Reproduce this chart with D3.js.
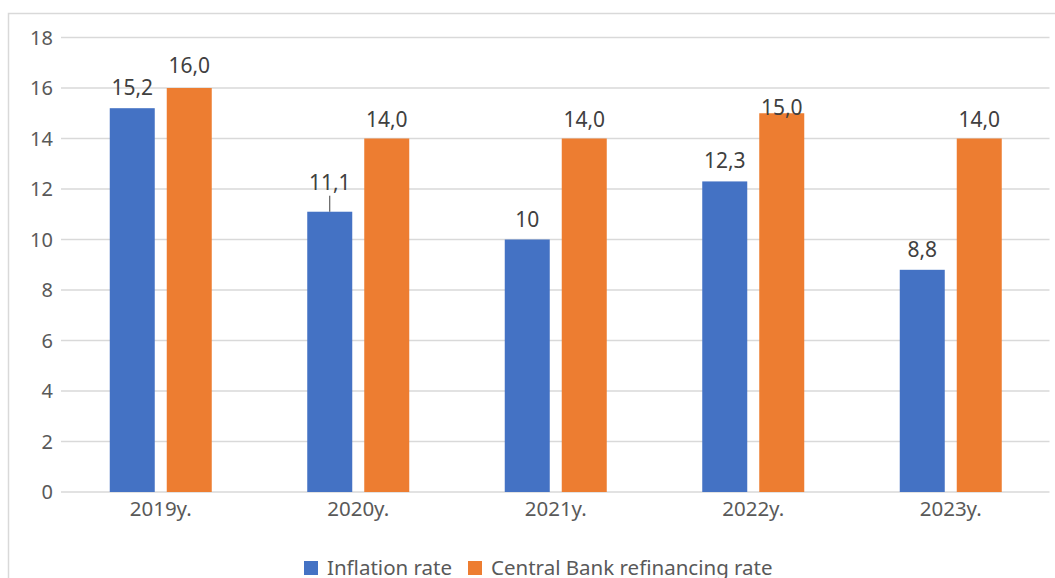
<!DOCTYPE html>
<html>
<head>
<meta charset="utf-8">
<script src="https://cdn.jsdelivr.net/npm/d3@7"></script>
<style>
  body { margin: 0; background: #fff; }
  text { font-family: "Noto Sans", "Open Sans", sans-serif; fill: #595959; }
</style>
</head>
<body>
<div id="chart-area"></div>
<script>
// data
var years = ["2019y.", "2020y.", "2021y.", "2022y.", "2023y."];
var inflation = [15.2, 11.1, 10, 12.3, 8.8];
var inflationLabels = ["15,2", "11,1", "10", "12,3", "8,8"];
var refinancing = [16.0, 14.0, 14.0, 15.0, 14.0];
var refinancingLabels = ["16,0", "14,0", "14,0", "15,0", "14,0"];
var yTicks = [0, 2, 4, 6, 8, 10, 12, 14, 16, 18];
var seriesNames = ["Inflation rate", "Central Bank refinancing rate"];
var colors = ["#4472c4", "#ed7d31"];

var chartW = 1055, chartH = 578;
var plotLeft = 62, plotRight = 1049.5, plotTop = 37.5, plotBottom = 492;

var svg = d3.select("#chart-area").append("svg")
	.attr("width", chartW)
	.attr("height", chartH);

// outer frame (cut at right and bottom like the screenshot)
svg.append("rect")
	.attr("x", 8.5).attr("y", 13.5)
	.attr("width", 1060).attr("height", 600)
	.attr("fill", "none")
	.attr("stroke", "#d9d9d9")
	.attr("stroke-width", 1.5);

var x = d3.scaleBand().domain(years).range([plotLeft, plotRight]);
var y = d3.scaleLinear().domain([0, 18]).range([plotBottom, plotTop]);

// gridlines + y labels
svg.selectAll(".grid").data(yTicks).enter()
	.append("line")
	.attr("x1", plotLeft - 1).attr("x2", plotRight)
	.attr("y1", function(d){ return y(d); })
	.attr("y2", function(d){ return y(d); })
	.attr("stroke", "#d9d9d9")
	.attr("stroke-width", 1.5);

svg.selectAll(".ylab").data(yTicks).enter()
	.append("text")
	.attr("x", 53)
	.attr("y", function(d){ return y(d); })
	.attr("dy", "0.36em")
	.attr("text-anchor", "end")
	.style("font-size", "20px")
	.text(function(d){ return d; });

// x labels
svg.selectAll(".xlab").data(years).enter()
	.append("text")
	.attr("x", function(d){ return x(d) + x.bandwidth() / 2; })
	.attr("y", 516)
	.attr("text-anchor", "middle")
	.style("font-size", "20.5px")
	.text(function(d){ return d; });

var barW = 45, gap = 12;
function barX(i, s) {
	var c = x(years[i]) + x.bandwidth() / 2;
	return s === 0 ? c - gap / 2 - barW : c + gap / 2;
}

var series = [inflation, refinancing];
var labels = [inflationLabels, refinancingLabels];
// label nudges, Excel moved a couple of them
var labelOffset = [[13, 22, 13, 13, 13], [15, 12, 12, -2, 12]];

series.forEach(function(vals, s){
	svg.selectAll(".bar" + s).data(vals).enter()
		.append("rect")
		.attr("x", function(d, i){ return barX(i, s); })
		.attr("y", function(d){ return y(d); })
		.attr("width", barW)
		.attr("height", function(d){ return y(0) - y(d); })
		.attr("fill", colors[s]);

	svg.selectAll(".lab" + s).data(vals).enter()
		.append("text")
		.attr("x", function(d, i){ return barX(i, s) + barW / 2; })
		.attr("y", function(d, i){ return y(d) - labelOffset[s][i]; })
		.attr("text-anchor", "middle")
		.style("font-size", "21px")
		.style("fill", "#404040")
		.text(function(d, i){ return labels[s][i]; });
});

// leader line for the 11,1 label
svg.append("line")
	.attr("x1", barX(1, 0) + barW / 2).attr("x2", barX(1, 0) + barW / 2)
	.attr("y1", y(inflation[1]) - 16).attr("y2", y(inflation[1]))
	.attr("stroke", "#404040")
	.attr("stroke-width", 1);

// legend
var legend = svg.append("g");
var legX = [304, 468];
seriesNames.forEach(function(name, s){
	legend.append("rect")
		.attr("x", legX[s]).attr("y", 561)
		.attr("width", 14).attr("height", 14)
		.attr("fill", colors[s]);
	legend.append("text")
		.attr("x", legX[s] + 23).attr("y", 575)
		.style("font-size", "20.5px")
		.text(name);
});
</script>
</body>
</html>
